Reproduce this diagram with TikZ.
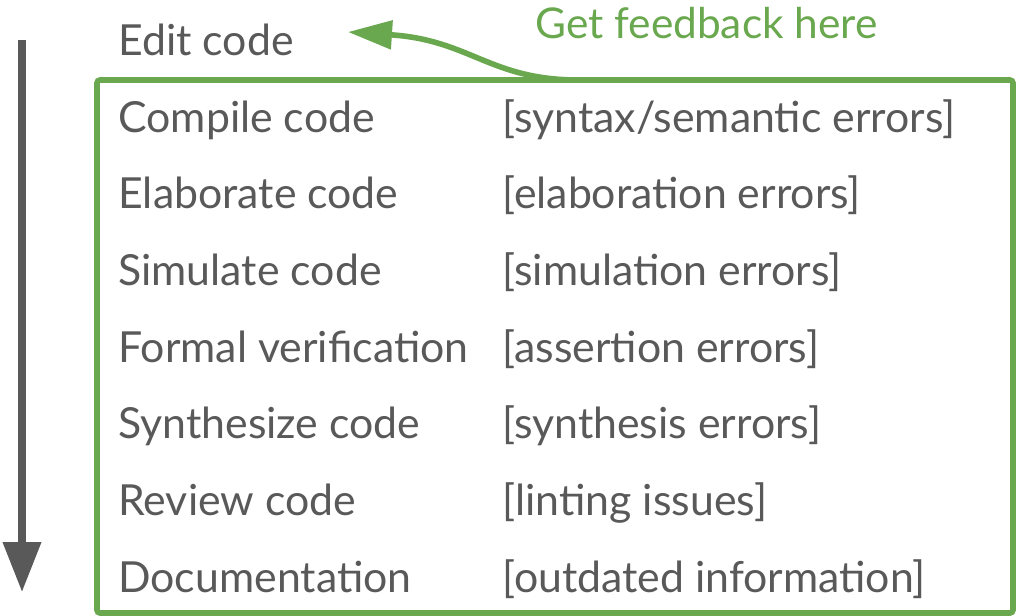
\documentclass[tikz,border=0pt]{standalone}
\usepackage{fontspec}
\setmainfont{Lato}
\usetikzlibrary{arrows.meta}
\definecolor{textgray}{HTML}{595959}
\definecolor{fbgreen}{HTML}{6AA84F}
\tikzset{
  step label/.style={anchor=base west,inner sep=0pt,text=textgray,font=\fontsize{21.4}{26}\selectfont},
  fb label/.style={anchor=base west,inner sep=0pt,text=fbgreen,font=\fontsize{21.2}{26}\selectfont},
}
\begin{document}
\begin{tikzpicture}[x=0.5pt,y=-0.5pt]
	\useasboundingbox (0,0) rectangle (1018,616);
	\node[step label] (edit) at (118,55) {Edit code};
	\node[step label] (compile) at (118,132) {Compile code};
	\node[step label] (elab) at (118,208) {Elaborate code};
	\node[step label] (sim) at (118,285) {Simulate code};
	\node[step label] (formal) at (118,362) {Formal verification};
	\node[step label] (synth) at (118,438) {Synthesize code};
	\node[step label] (review) at (118,515) {Review code};
	\node[step label] (doc) at (118,592) {Documentation};
	\node[step label] (compileerr) at (502,132) {[syntax/semantic errors]};
	\node[step label] (elaberr) at (502,208) {[elaboration errors]};
	\node[step label] (simerr) at (502,285) {[simulation errors]};
	\node[step label] (formalerr) at (502,362) {[assertion errors]};
	\node[step label] (syntherr) at (502,438) {[synthesis errors]};
	\node[step label] (reviewerr) at (502,515) {[linting issues]};
	\node[step label] (docerr) at (502,592) {[outdated information]};
	\node[fb label] (feedback) at (535,38) {Get feedback here};
	\draw[fbgreen,line width=2.8pt,rounded corners=1.5pt] (97,80) rectangle (1013,613);
	\coordinate (fbstart) at (578,80);
	\coordinate (fbend) at (348,32);
	\draw[fbgreen,line width=2.8pt,-{Triangle[width=14pt,length=22pt]}] (fbstart) .. controls (490,80) and (470,40) .. (fbend);
	\coordinate (flowtop) at (22,40);
	\coordinate (flowbot) at (22,592);
	\draw[textgray,line width=3.6pt,-{Triangle[width=18.5pt,length=25pt]}] (flowtop) -- (flowbot);
\end{tikzpicture}
\end{document}
